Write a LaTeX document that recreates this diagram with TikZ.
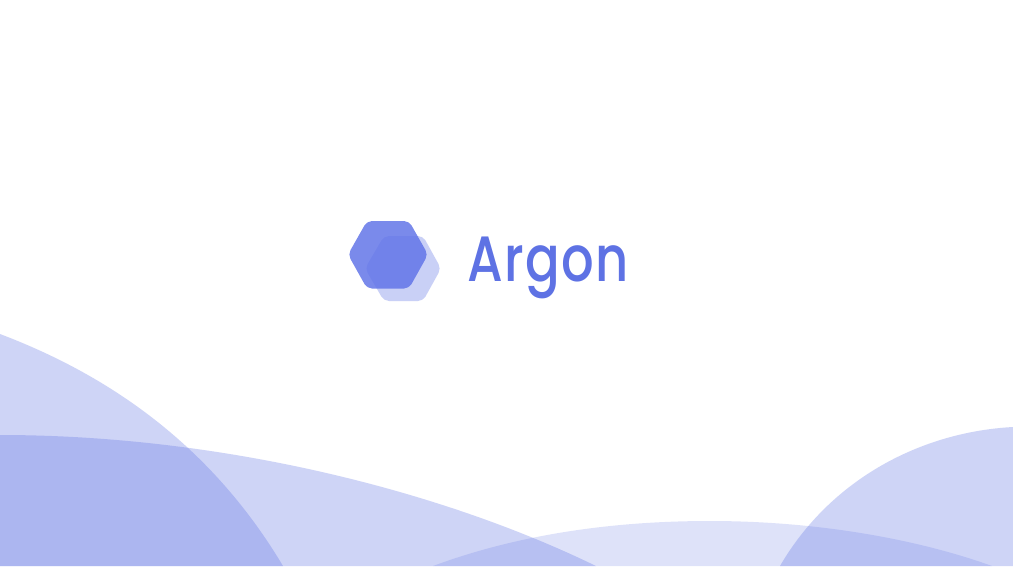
\documentclass[tikz,border=0pt]{standalone}
\usepackage{fontspec}
\setmainfont{Poppins Medium}
\definecolor{argon}{HTML}{5E72E4}
\definecolor{argonfront}{HTML}{6073E8}
\tikzset{
  wave/.style={fill=argon,fill opacity=.3,draw=none},
  wavelight/.style={fill=argon,fill opacity=.2,draw=none},
  hexfront/.style={fill=argonfront,fill opacity=.83,draw=none,rounded corners=5pt},
  hexback/.style={fill=argon,fill opacity=.33,draw=none,rounded corners=5pt},
  logotext/.style={text=argon,font=\fontsize{64}{64}\selectfont\addfontfeature{LetterSpace=2.5},inner sep=0pt,anchor=base west,xscale=.8}
}
\begin{document}
\begin{tikzpicture}[x=1pt,y=-1pt]
\useasboundingbox (0,0) rectangle (1013,566);
\clip (0,0) rectangle (1013,566);
\fill[white] (0,0) rectangle (1013,566);
% waves
\fill[wave] (0,334) .. controls (95,370) and (205,435) .. (283,566) -- (0,566) -- cycle;
\fill[wave] (0,435) .. controls (220,435) and (440,490) .. (596,566) -- (0,566) -- cycle;
\fill[wavelight] (433,566) .. controls (530,530) and (630,521) .. (710,521) .. controls (820,521) and (920,540) .. (992,566) -- cycle;
\fill[wave] (780,566) .. controls (830,480) and (920,432) .. (1013,427) -- (1013,566) -- cycle;
% logo
\path[hexback] (365,268.5) -- (384,236) -- (423,236) -- (441,268.5) -- (423,301) -- (384,301) -- cycle;
\path[hexfront] (348,254.5) -- (367,221) -- (409,221) -- (428,254.5) -- (409,288.5) -- (367,288.5) -- cycle;
\node[logotext,transform shape] (title) at (467,281) {Argon};
\end{tikzpicture}
\end{document}
